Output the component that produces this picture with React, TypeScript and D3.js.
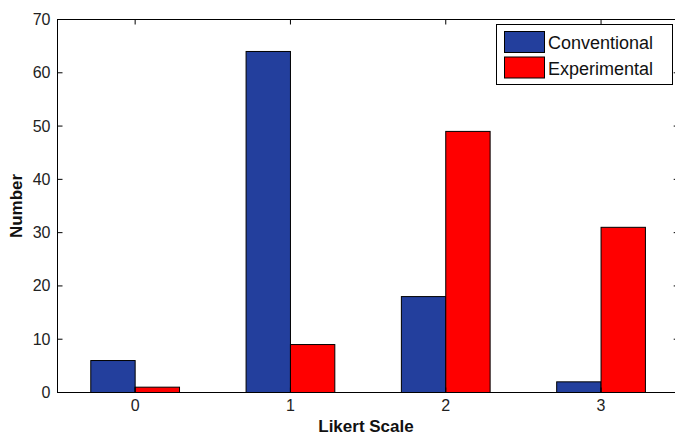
import { useEffect } from "react";
import * as d3 from "d3";

// values
const categories = [0, 1, 2, 3];
const conventional = [6, 64, 18, 2];
const experimental = [1, 9, 49, 31];
const seriesNames = ["Conventional", "Experimental"];
const seriesColors = ["#233f9d", "#ff0000"];
const yTicks = [0, 10, 20, 30, 40, 50, 60, 70];

export default function App() {
  useEffect(() => {
    document.body.style.margin = "0";
  }, []);

  const width = 675;
  const height = 444;
  const left = 57.5;
  const top = 19.5;
  const bottom = 392.5;

  const xScale = d3.scaleLinear().domain([-0.5, 3.5]).range([left, left + 4 * 155.3]);
  const yScale = d3.scaleLinear().domain([0, 70]).range([bottom, top]);
  const barW = xScale(0.2857) - xScale(0);
  const right = xScale(3.5);

  const series = [conventional, experimental];
  const font = "'Liberation Sans', Arial, sans-serif";

  return (
    <svg width={width} height={height} style={{ display: "block", background: "white" }}>
      <rect x={0} y={0} width={width} height={height} fill="white" />

      {/* bars */}
      {series.map((vals, si) =>
        vals.map((v, i) => {
          const x0 = si == 0 ? xScale(categories[i]) - barW : xScale(categories[i]);
          return (
            <rect
              key={si + "-" + i}
              x={x0}
              y={yScale(v)}
              width={barW}
              height={yScale(0) - yScale(v)}
              fill={seriesColors[si]}
              stroke="black"
              strokeWidth={1}
            />
          );
        })
      )}

      {/* frame */}
      <rect x={left} y={top} width={right - left} height={bottom - top} fill="none" stroke="black" strokeWidth={1} />

      {/* y ticks */}
      {yTicks.map((t) => (
        <g key={"y" + t}>
          <line x1={left} x2={left + 5} y1={yScale(t)} y2={yScale(t)} stroke="black" />
          <line x1={right} x2={right - 5} y1={yScale(t)} y2={yScale(t)} stroke="black" />
          <text x={left - 7} y={yScale(t) + 5.5} fontSize="16" fontFamily={font} textAnchor="end" fill="#222">
            {t}
          </text>
        </g>
      ))}

      {/* x ticks */}
      {categories.map((c) => (
        <g key={"x" + c}>
          <line x1={xScale(c)} x2={xScale(c)} y1={bottom} y2={bottom - 5} stroke="black" />
          <line x1={xScale(c)} x2={xScale(c)} y1={top} y2={top + 5} stroke="black" />
          <text x={xScale(c)} y={bottom + 18} fontSize="16" fontFamily={font} textAnchor="middle" fill="#222">
            {c}
          </text>
        </g>
      ))}

      {/* axis titles */}
      <text x={366} y={432} fontSize="17" fontWeight="bold" fontFamily={font} textAnchor="middle" fill="#111">
        Likert Scale
      </text>
      <text
        transform={`translate(22,206) rotate(-90)`}
        fontSize="17"
        fontWeight="bold"
        fontFamily={font}
        textAnchor="middle"
        fill="#111"
      >
        Number
      </text>

      {/* legend */}
      <rect x={496.5} y={24.5} width={176} height={60} fill="white" stroke="black" strokeWidth={1} />
      {seriesNames.map((name, i) => (
        <g key={name}>
          <rect x={504.5} y={31.5 + i * 25.5} width={40} height={21} fill={seriesColors[i]} stroke="black" />
          <text x={548} y={49 + i * 25.5} fontSize="18" fontFamily={font} fill="#111">
            {name}
          </text>
        </g>
      ))}
    </svg>
  );
}
